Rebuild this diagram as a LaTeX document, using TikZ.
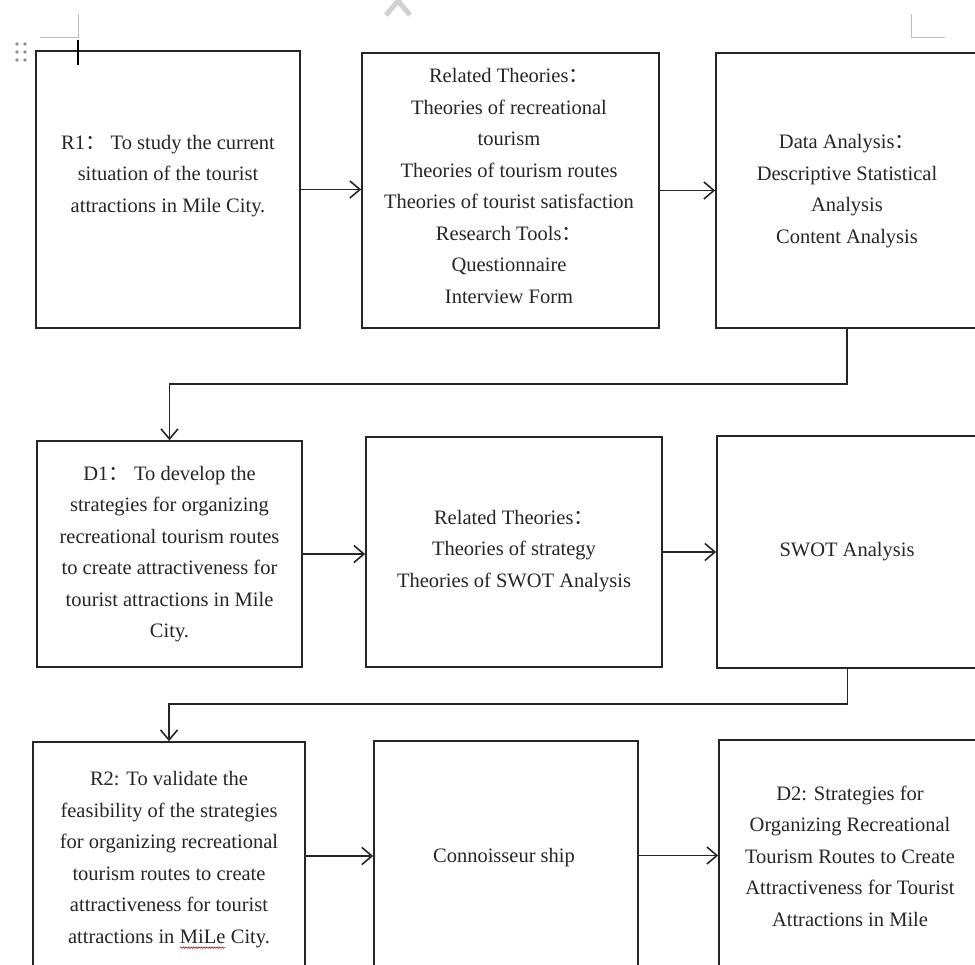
\documentclass[tikz,border=0pt]{standalone}
\usepackage{fontspec}
\setmainfont{Liberation Serif}
\newfontfamily\cjk{Noto Sans CJK SC}
\usetikzlibrary{arrows.meta,decorations.pathmorphing,calc}
\newcommand{\fcolon}{{\cjk ：}}
\newcommand{\redwave}[1]{\tikz[baseline=(w.base)]{\node[inner sep=0pt,outer sep=0pt](w){#1};\draw[red!80!black,line width=0.6pt,decorate,decoration={snake,amplitude=0.7pt,segment length=2.6pt}] ([yshift=-4.5pt]w.base west) -- ([yshift=-4.5pt]w.base east);}}
\tikzset{
  boxnode/.style={draw=black!85, line width=1.7pt, rectangle, inner sep=0pt},
  txt/.style={align=center, font=\fontsize{20.5}{31.5}\selectfont, text=black!85, inner sep=0pt},
  arr/.style={draw=black!85, line width=1.6pt, -{Straight Barb[length=10pt,width=17pt,line width=1.6pt]}},
  marks/.style={draw=black!25, line width=1pt}
}
\begin{document}
\begin{tikzpicture}[x=1pt,y=-1pt]
\useasboundingbox (0,0) rectangle (975,965);
\clip (0,0) rectangle (975,965);
\fill[white] (0,0) rectangle (975,965);

% decorations at the top
\draw[marks] (78,14) -- (78,38) -- (40,38);
\draw[marks] (911,14) -- (911,38) -- (945,38);
\draw[draw=black!18, line width=5pt, line join=round, line cap=butt] (386,15) -- (398,1) -- (410,15);
\foreach \dx in {17,25} \foreach \dy in {44,52,60} \fill[black!45] (\dx,\dy) circle (1.9);

% row 1
\node[boxnode, minimum width=264pt, minimum height=277pt] (A) at (168,189.5) {};
\node[txt] (At) at (168,176) {R1\fcolon\ To study the current\\situation of the tourist\\attractions in Mile City.};
\node[boxnode, minimum width=297pt, minimum height=275pt] (B) at (510.5,190.5) {};
\node[txt] (Bt) at (509,186) {Related Theories\fcolon\\Theories of recreational\\tourism\\Theories of tourism routes\\Theories of tourist satisfaction\\Research Tools\fcolon\\Questionnaire\\Interview Form};
\node[boxnode, minimum width=262pt, minimum height=275pt] (C) at (847,190.5) {};
\node[txt] (Ct) at (847,191) {Data Analysis\fcolon\\Descriptive Statistical\\Analysis\\Content Analysis};

% row 2
\node[boxnode, minimum width=265pt, minimum height=226pt] (D) at (169.5,554) {};
\node[txt] (Dt) at (169.5,554) {D1\fcolon\ To develop the\\strategies for organizing\\recreational tourism routes\\to create attractiveness for\\tourist attractions in Mile\\City.};
\node[boxnode, minimum width=296pt, minimum height=230pt] (E) at (514,552) {};
\node[txt] (Et) at (514,551) {Related Theories\fcolon\\Theories of strategy\\Theories of SWOT Analysis};
\node[boxnode, minimum width=261pt, minimum height=232pt] (F) at (847.5,552) {};
\node[txt] (Ft) at (847,552) {SWOT Analysis};

% row 3
\node[boxnode, minimum width=272pt, minimum height=236pt] (G) at (169,860) {};
\node[txt] (Gt) at (169,860) {R2: To validate the\\feasibility of the strategies\\for organizing recreational\\tourism routes to create\\attractiveness for tourist\\attractions in \redwave{MiLe} City.};
\node[boxnode, minimum width=264pt, minimum height=237pt] (H) at (506,859.5) {};
\node[txt] (Ht) at (504,858) {Connoisseur ship};
\node[boxnode, minimum width=261pt, minimum height=238pt] (I) at (849.5,859) {};
\node[txt] (It) at (850,856) {D2: Strategies for\\Organizing Recreational\\Tourism Routes to Create\\Attractiveness for Tourist\\Attractions in Mile};

% connectors
\draw[arr] (A.east) -- (A.east -| B.west);
\draw[arr] (B.east) -- (B.east -| C.west);
\draw[arr] (C.south) -- ++(0,55) -| (D.north);
\draw[arr] (D.east) -- (D.east -| E.west);
\draw[arr] (E.east) -- (E.east -| F.west);
\draw[arr] (F.south) -- ++(0,35) -| (G.north);
\draw[arr] ([yshift=4pt]G.east) -- ([yshift=4pt]G.east -| H.west);
\draw[arr] ([yshift=4pt]H.east) -- ([yshift=4pt]H.east -| I.west);

% text cursor
\draw[black, line width=2.5pt] (78,40) -- (78,65);
\end{tikzpicture}
\end{document}
